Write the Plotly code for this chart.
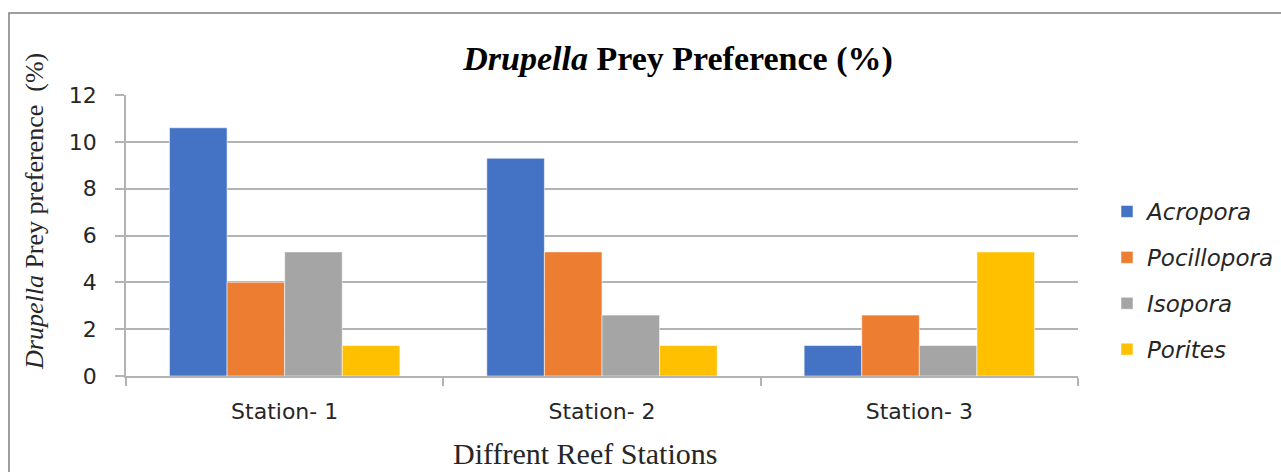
import plotly.graph_objects as go

# Reef stations and prey preference (%) of Drupella on each coral genus
stations = ["Station- 1", "Station- 2", "Station- 3"]
acropora = [10.6, 9.3, 1.3]
pocillopora = [4.0, 5.3, 2.6]
isopora = [5.3, 2.6, 1.3]
porites = [1.3, 1.3, 5.3]
y_ticks = [0, 2, 4, 6, 8, 10, 12]

series = [
    ("Acropora", acropora, "#4472C4"),
    ("Pocillopora", pocillopora, "#ED7D31"),
    ("Isopora", isopora, "#A5A5A5"),
    ("Porites", porites, "#FFC000"),
]

W, H = 1281, 472
L, R, T, B = 126, 203, 95, 96
plot_w = W - L - R
plot_h = H - T - B


def px_x(px):
    return (px - L) / plot_w


def px_y(py):
    return (H - B - py) / plot_h


fig = go.Figure()
for name, vals, color in series:
    fig.add_trace(go.Bar(
        x=stations, y=vals, name=name,
        legendgroup=name,
        marker=dict(color=color, line=dict(color="rgba(255,255,255,0.55)", width=1)),
    ))

grey = "#b3b3b3"
text_col = "#262626"
fig.update_layout(
    width=W, height=H,
    margin=dict(l=L, r=R, t=T, b=B, pad=0),
    paper_bgcolor="white", plot_bgcolor="white",
    barmode="group", bargap=0.274, bargroupgap=0,
    title=dict(
        text="<b><i>Drupella</i> Prey Preference (%)</b>",
        font=dict(family="Liberation Serif", size=34, color="#000000"),
        x=678 / W, xanchor="center", xref="container",
        y=1 - 58 / H, yanchor="middle", yref="container",
    ),
    legend=dict(
        xref="container", yref="container",
        x=1107 / W, xanchor="left",
        y=1 - 190 / H, yanchor="top",
        font=dict(family="DejaVu Sans", size=23, color=text_col, style="italic"),
        tracegroupgap=13, traceorder="grouped",
        bgcolor="rgba(0,0,0,0)", itemwidth=30,
    ),
    xaxis=dict(
        type="category",
        showgrid=False,
        showline=True, linecolor=grey, linewidth=1.5,
        ticks="outside", tickson="boundaries", ticklen=8, tickcolor=grey, tickwidth=1.5,
        tickfont=dict(family="DejaVu Sans", size=22, color=text_col),
        ticklabelstandoff=15,
    ),
    yaxis=dict(
        range=[0, 12], tickvals=y_ticks,
        showgrid=True, gridcolor=grey, gridwidth=1.5,
        showline=True, linecolor=grey, linewidth=1.5,
        ticks="outside", ticklen=9, tickcolor=grey, tickwidth=1.5,
        tickfont=dict(family="DejaVu Sans", size=22, color=text_col),
        ticklabelstandoff=14,
        zeroline=False,
    ),
    annotations=[
        dict(
            text="Diffrent Reef Stations",
            xref="paper", yref="paper",
            x=px_x(585), y=px_y(453), xanchor="center", yanchor="middle",
            showarrow=False,
            font=dict(family="Liberation Serif", size=30, color=text_col),
        ),
        dict(
            text="<i>Drupella</i> Prey preference  (%)",
            xref="paper", yref="paper",
            x=px_x(34), y=px_y(212), xanchor="center", yanchor="middle",
            textangle=-90, showarrow=False,
            font=dict(family="Liberation Serif", size=26, color=text_col),
        ),
    ],
    shapes=[
        dict(
            type="rect", xref="paper", yref="paper",
            x0=px_x(9), x1=px_x(1300), y0=px_y(480), y1=px_y(13),
            line=dict(color="#7f7f7f", width=1.5),
            fillcolor="rgba(0,0,0,0)",
        )
    ],
)

fig.write_html("out.html")
